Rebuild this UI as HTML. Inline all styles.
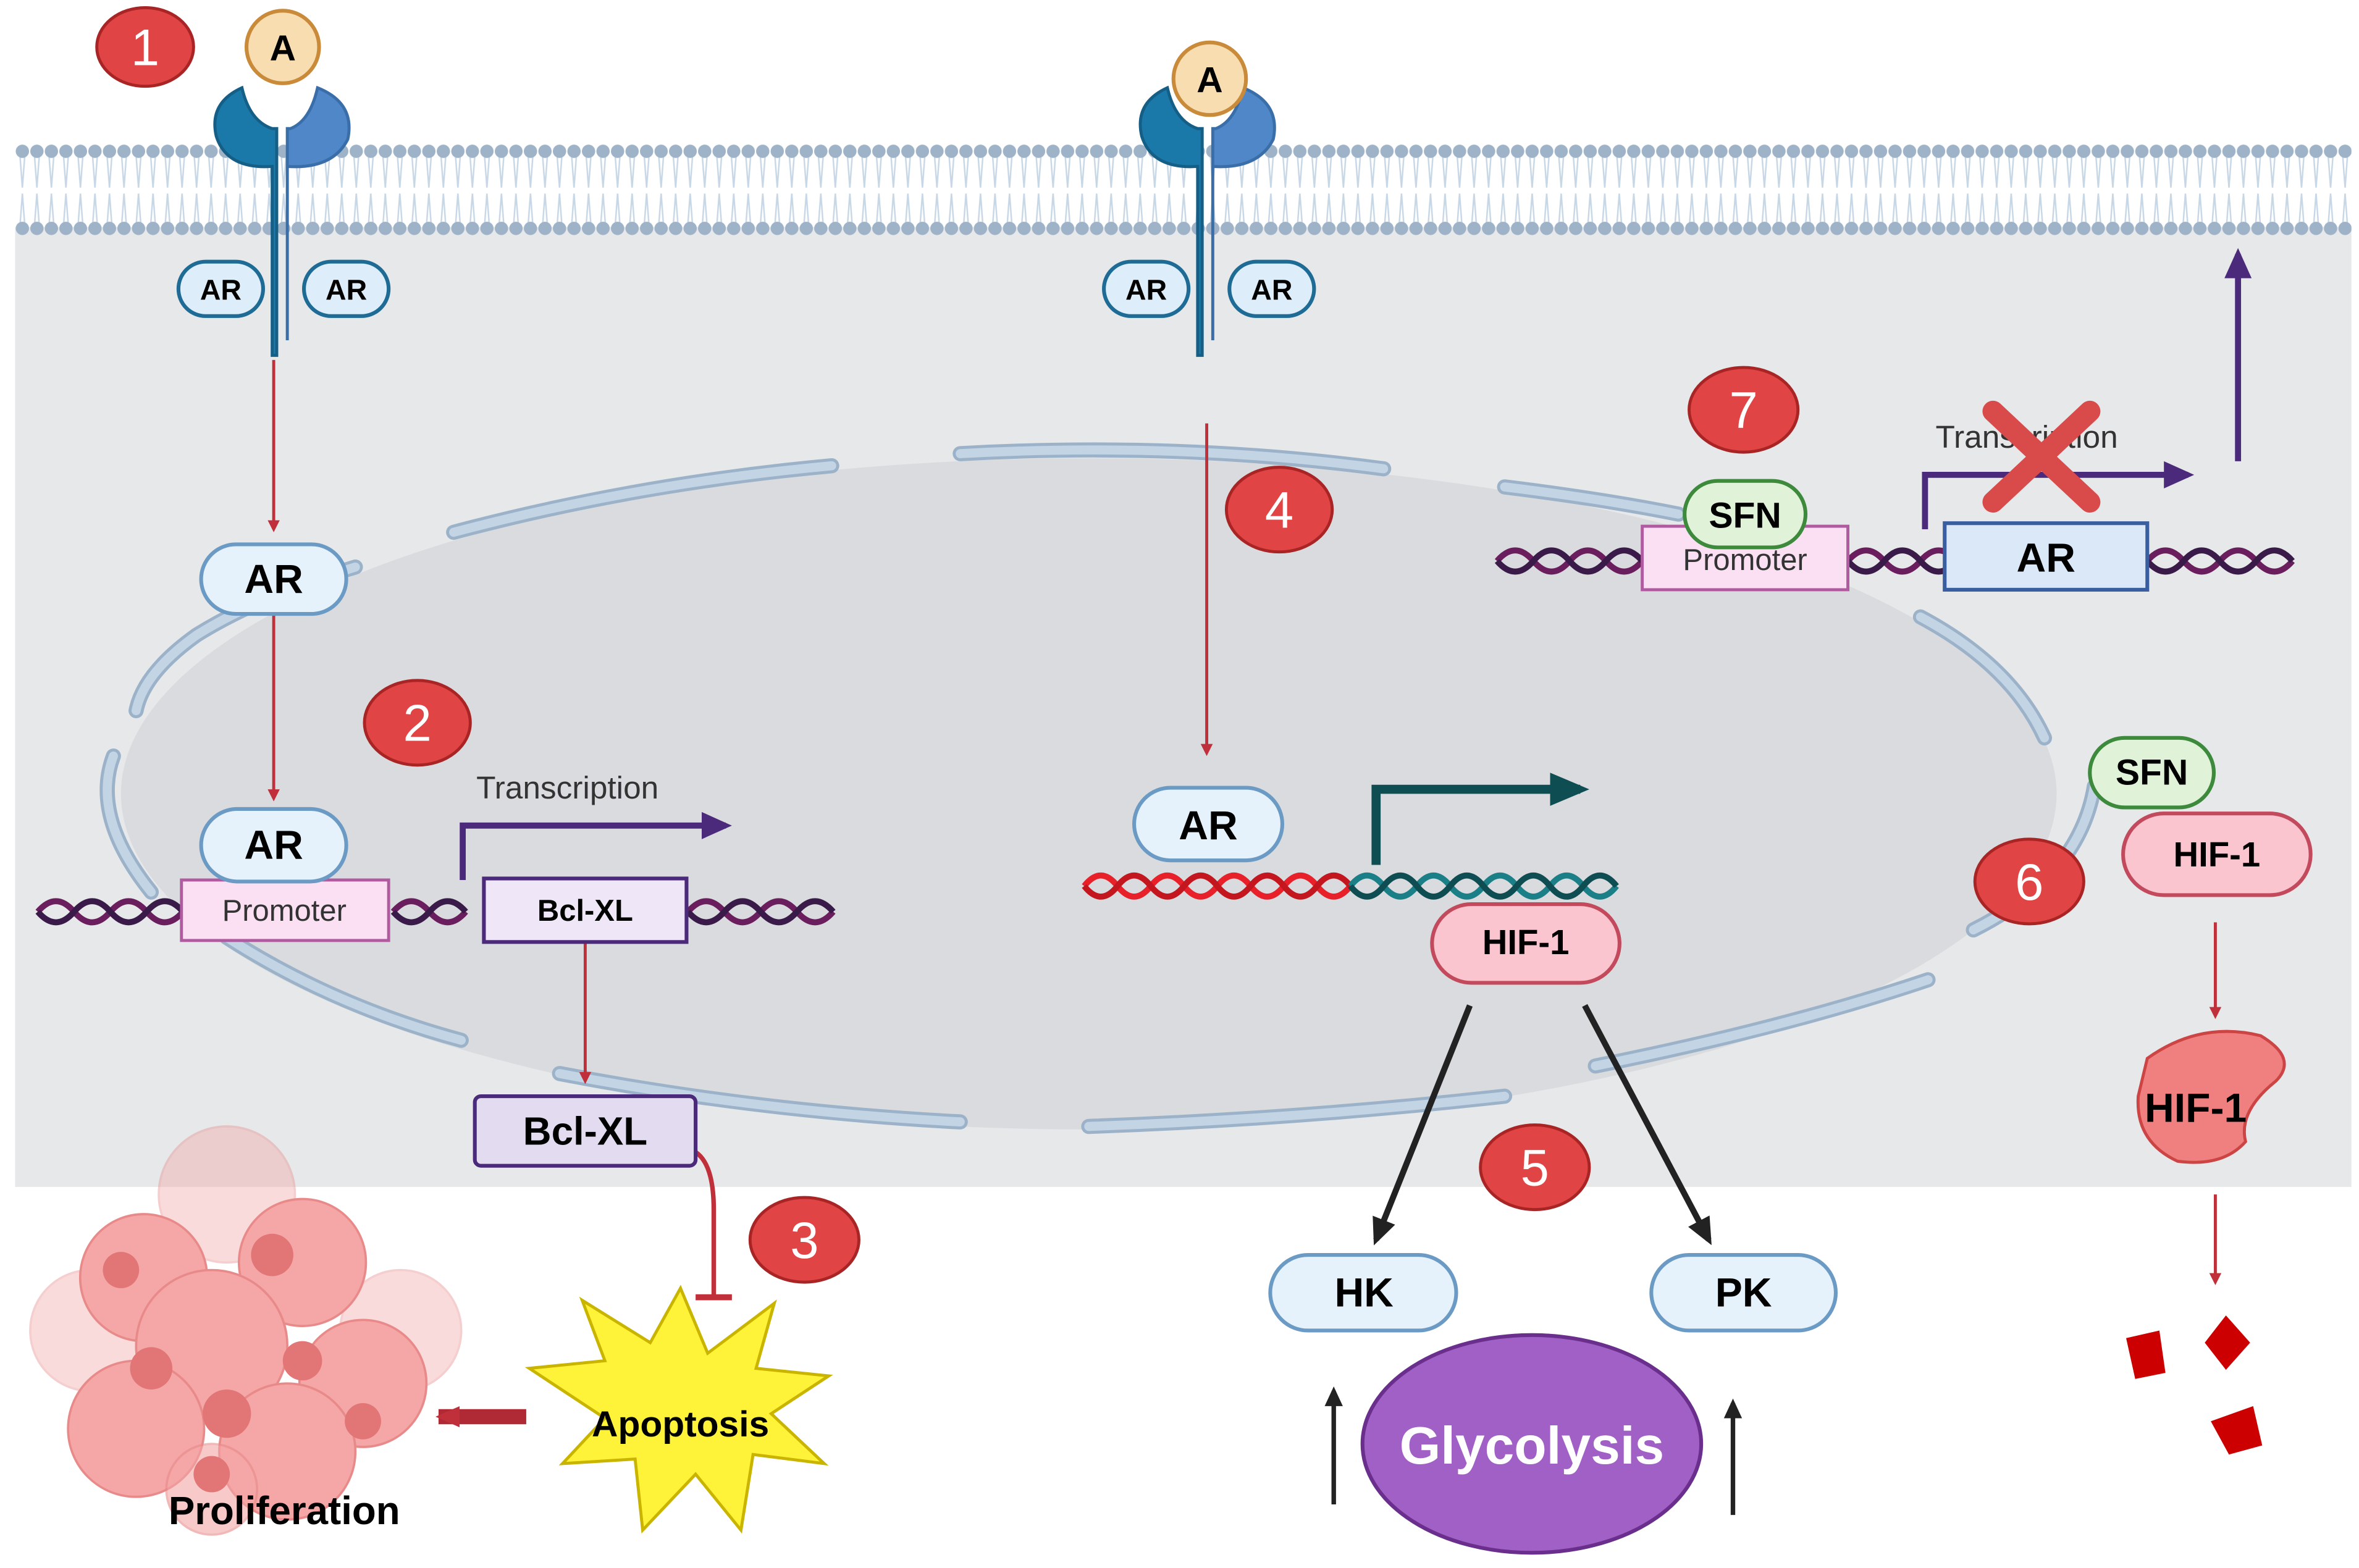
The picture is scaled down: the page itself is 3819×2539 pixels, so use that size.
<!DOCTYPE html>
<html><head><meta charset="utf-8"><style>html,body{margin:0;padding:0;background:#fff}svg{display:block}text{font-family:"Liberation Sans",sans-serif}</style></head><body>
<svg width="3819" height="2539" viewBox="0 0 1560 1037" xmlns="http://www.w3.org/2000/svg">
<defs>
<marker id="ra" markerWidth="8" markerHeight="8" refX="6" refY="4" orient="auto" markerUnits="userSpaceOnUse"><path d="M0,0 L8,4 L0,8 z" fill="#c0303a"/></marker>
<marker id="rb" markerWidth="18" markerHeight="18" refX="14" refY="9" orient="auto" markerUnits="userSpaceOnUse"><path d="M0,2 L16,9 L0,16 z" fill="#c0303a"/></marker>
<marker id="ka" markerWidth="20" markerHeight="20" refX="14" refY="10" orient="auto" markerUnits="userSpaceOnUse"><path d="M0,2 L18,10 L0,18 z" fill="#222"/></marker>
<marker id="ks" markerWidth="14" markerHeight="14" refX="10" refY="7" orient="auto" markerUnits="userSpaceOnUse"><path d="M0,1 L13,7 L0,13 z" fill="#222"/></marker>
<marker id="pa" markerWidth="22" markerHeight="22" refX="16" refY="11" orient="auto" markerUnits="userSpaceOnUse"><path d="M0,2 L20,11 L0,20 z" fill="#4b2a7b"/></marker>
<marker id="ta" markerWidth="30" markerHeight="30" refX="20" refY="15" orient="auto" markerUnits="userSpaceOnUse"><path d="M0,4 L26,15 L0,26 z" fill="#0e4d52"/></marker>
<pattern id="dots1" x="10" y="94" width="9.6" height="12" patternUnits="userSpaceOnUse"><circle cx="4.8" cy="6" r="4.4" fill="#9fb3c8"/></pattern>
<pattern id="dots2" x="10" y="145" width="9.6" height="12" patternUnits="userSpaceOnUse"><circle cx="4.8" cy="6" r="4.4" fill="#9fb3c8"/></pattern>
<pattern id="tails" x="10" y="100" width="9.6" height="52" patternUnits="userSpaceOnUse"><path d="M3,0 L4.8,24 L6.6,0 M3,52 L4.8,28 L6.6,52" stroke="#c7d7e6" stroke-width="1" fill="none"/></pattern>
</defs>
<rect x="10" y="150" width="1545" height="635" fill="#e6e8ea"/>
<rect x="10" y="100" width="1545" height="52" fill="url(#tails)"/>
<rect x="10" y="94" width="1545" height="12" fill="url(#dots1)"/>
<rect x="10" y="145" width="1545" height="12" fill="url(#dots2)"/>
<!-- nucleus -->
<ellipse cx="720" cy="525" rx="640" ry="222" fill="#d9dbde"/>
<g fill="none" stroke-linecap="round">
<g stroke="#9bb2c9" stroke-width="10">
<path d="M300,352 Q420,320 550,308"/><path d="M635,300 Q780,292 915,310"/><path d="M995,322 Q1060,330 1110,340"/>
<path d="M235,375 Q170,395 130,420 Q95,445 90,470"/><path d="M75,500 Q60,540 100,590"/><path d="M150,620 Q220,665 305,688"/>
<path d="M370,710 Q500,735 635,742"/><path d="M720,745 Q860,740 995,725"/><path d="M1055,705 Q1180,680 1275,648"/>
<path d="M1270,408 Q1330,440 1352,488"/><path d="M1385,520 Q1375,580 1305,615"/>
</g>
<g stroke="#c3d4e5" stroke-width="6">
<path d="M300,352 Q420,320 550,308"/><path d="M635,300 Q780,292 915,310"/><path d="M995,322 Q1060,330 1110,340"/>
<path d="M235,375 Q170,395 130,420 Q95,445 90,470"/><path d="M75,500 Q60,540 100,590"/><path d="M150,620 Q220,665 305,688"/>
<path d="M370,710 Q500,735 635,742"/><path d="M720,745 Q860,740 995,725"/><path d="M1055,705 Q1180,680 1275,648"/>
<path d="M1270,408 Q1330,440 1352,488"/><path d="M1385,520 Q1375,580 1305,615"/>
</g></g>
<!-- receptors -->
<g id="rec">
<path d="M180,235 L180,110 Q150,112 143,90 Q138,68 160,58 Q165,80 180,85 L183,85 L183,235 Z" fill="#1b79a9" stroke="#155f87" stroke-width="2"/>
<path d="M190,225 L190,110 Q220,112 230,92 Q235,68 210,58 Q205,80 192,85 L190,85 Z" fill="#4f87c8" stroke="#3a6ea8" stroke-width="2"/>
</g>
<use href="#rec" transform="translate(612,0)"/>
<g font-weight="bold" font-size="19" text-anchor="middle">
<rect x="118" y="173" width="56" height="36" rx="18" fill="#ddeefa" stroke="#1e6b95" stroke-width="2.5"/><text x="146" y="198">AR</text>
<rect x="201" y="173" width="56" height="36" rx="18" fill="#ddeefa" stroke="#1e6b95" stroke-width="2.5"/><text x="229" y="198">AR</text>
<rect x="730" y="173" width="56" height="36" rx="18" fill="#ddeefa" stroke="#1e6b95" stroke-width="2.5"/><text x="758" y="198">AR</text>
<rect x="813" y="173" width="56" height="36" rx="18" fill="#ddeefa" stroke="#1e6b95" stroke-width="2.5"/><text x="841" y="198">AR</text>
</g>
<g font-weight="bold" font-size="24" text-anchor="middle">
<circle cx="187" cy="31" r="24" fill="#f8ddb0" stroke="#c98a3a" stroke-width="2.5"/><text x="187" y="40">A</text>
<circle cx="800" cy="52" r="24" fill="#f8ddb0" stroke="#c98a3a" stroke-width="2.5"/><text x="800" y="61">A</text>
</g>
<!-- red number badges -->
<g font-size="34" fill="#fff" text-anchor="middle">
<g fill="#e04444" stroke="#a92525" stroke-width="2">
<ellipse cx="96" cy="31" rx="32" ry="26"/><ellipse cx="276" cy="478" rx="35" ry="28"/><ellipse cx="532" cy="820" rx="36" ry="28"/>
<ellipse cx="846" cy="337" rx="35" ry="28"/><ellipse cx="1015" cy="772" rx="36" ry="28"/><ellipse cx="1342" cy="583" rx="36" ry="28"/><ellipse cx="1153" cy="271" rx="36" ry="28"/>
</g>
<text x="96" y="43">1</text><text x="276" y="490">2</text><text x="532" y="832">3</text><text x="846" y="349">4</text><text x="1015" y="784">5</text><text x="1342" y="595">6</text><text x="1153" y="283">7</text>
</g>
<!-- red arrows -->
<g stroke="#c0303a" stroke-width="2" fill="none">
<line x1="181" y1="238" x2="181" y2="350" marker-end="url(#ra)"/>
<line x1="181" y1="400" x2="181" y2="528" marker-end="url(#ra)"/>
<line x1="798" y1="280" x2="798" y2="498" marker-end="url(#ra)"/>
<line x1="387" y1="622" x2="387" y2="715" marker-end="url(#ra)"/>
<line x1="1465" y1="610" x2="1465" y2="672" marker-end="url(#ra)"/>
<line x1="1465" y1="790" x2="1465" y2="848" marker-end="url(#ra)"/>
<path d="M460,762 Q472,770 472,800 L472,858" stroke-width="3"/>
<line x1="460" y1="858" x2="484" y2="858" stroke-width="4"/>
</g>
<line x1="348" y1="937" x2="290" y2="937" stroke="#b02a35" stroke-width="10" marker-end="url(#rb)"/>
<!-- DNA -->
<g fill="none" stroke-width="4">
<path d="M25,603 q12,-14 24,0 t24,0 t24,0 t24,0 M260,603 q12,-14 24,0 t24,0 M455,603 q12,-14 24,0 t24,0 t24,0 t24,0" stroke="#6a1e5e"/>
<path d="M25,603 q12,14 24,0 t24,0 t24,0 t24,0 M260,603 q12,14 24,0 t24,0 M455,603 q12,14 24,0 t24,0 t24,0 t24,0" stroke="#3a1a48"/>
<path d="M990,371 q12,-14 24,0 t24,0 t24,0 t24,0 M1222,371 q12,-14 24,0 t24,0 t24,0 M1420,371 q12,-14 24,0 t24,0 t24,0 t24,0" stroke="#6a1e5e"/>
<path d="M990,371 q12,14 24,0 t24,0 t24,0 t24,0 M1222,371 q12,14 24,0 t24,0 t24,0 M1420,371 q12,14 24,0 t24,0 t24,0 t24,0" stroke="#3a1a48"/>
<path d="M717,586 q11,-14 22,0 t22,0 t22,0 t22,0 t22,0 t22,0 t22,0 t22,0" stroke="#e8202a"/>
<path d="M717,586 q11,14 22,0 t22,0 t22,0 t22,0 t22,0 t22,0 t22,0 t22,0" stroke="#c4161e"/>
<path d="M893,586 q11,-14 22,0 t22,0 t22,0 t22,0 t22,0 t22,0 t22,0 t22,0" stroke="#1a7f87"/>
<path d="M893,586 q11,14 22,0 t22,0 t22,0 t22,0 t22,0 t22,0 t22,0 t22,0" stroke="#0e4d52"/>
</g>
<!-- transcription arrows -->
<g fill="none" stroke-width="4">
<path d="M306,582 L306,546 L480,546" stroke="#4b2a7b" marker-end="url(#pa)"/>
<path d="M1273,350 L1273,314 L1447,314" stroke="#4b2a7b" marker-end="url(#pa)"/>
<path d="M910,572 L910,522 L1045,522" stroke="#0e4d52" stroke-width="6" marker-end="url(#ta)"/>
<line x1="1480" y1="305" x2="1480" y2="168" stroke="#4b2a7b" marker-end="url(#pa)"/>
</g>
<g font-size="21" fill="#333">
<text x="315" y="528">Transcription</text>
<text x="1280" y="296">Transcription</text>
</g>
<path d="M1318,272 L1382,332 M1382,272 L1318,332" stroke="#d94a4a" stroke-width="14" stroke-linecap="round"/>
<!-- boxes -->
<g text-anchor="middle">
<rect x="120" y="582" width="137" height="40" fill="#fbe0f4" stroke="#b05aa0" stroke-width="2"/><text x="188" y="609" font-size="20" fill="#333">Promoter</text>
<rect x="320" y="581" width="134" height="42" fill="#efe6f7" stroke="#4b2a7b" stroke-width="2.5"/><text x="387" y="609" font-size="20" font-weight="bold">Bcl-XL</text>
<rect x="314" y="725" width="146" height="46" rx="4" fill="#e3dbf0" stroke="#4b2a7b" stroke-width="2.5"/><text x="387" y="757" font-size="26" font-weight="bold">Bcl-XL</text>
<rect x="1086" y="348" width="136" height="42" fill="#fbe0f4" stroke="#b05aa0" stroke-width="2"/><text x="1154" y="377" font-size="20" fill="#333">Promoter</text>
<rect x="1286" y="346" width="134" height="44" fill="#dbe8f8" stroke="#3a5fa0" stroke-width="2.5"/><text x="1353" y="378" font-size="27" font-weight="bold">AR</text>
<g fill="#e6f2fb" stroke="#6b9bc4" stroke-width="2.5">
<rect x="133" y="360" width="96" height="46" rx="23"/><rect x="133" y="535" width="96" height="48" rx="24"/><rect x="750" y="521" width="98" height="48" rx="24"/>
<rect x="840" y="830" width="123" height="50" rx="25"/><rect x="1092" y="830" width="122" height="50" rx="25"/>
</g>
<g font-size="27" font-weight="bold"><text x="181" y="392">AR</text><text x="181" y="568">AR</text><text x="799" y="555">AR</text><text x="902" y="864">HK</text><text x="1153" y="864">PK</text></g>
<g fill="#e0f3d8" stroke="#3d8a3d" stroke-width="2.5"><rect x="1114" y="318" width="80" height="44" rx="22"/><rect x="1382" y="488" width="82" height="46" rx="23"/></g>
<g font-size="24" font-weight="bold"><text x="1154" y="349">SFN</text><text x="1423" y="519">SFN</text></g>
<g fill="#fbc5cf" stroke="#c24a5c" stroke-width="2.5"><rect x="947" y="598" width="124" height="52" rx="26"/><rect x="1404" y="538" width="124" height="54" rx="27"/></g>
<g font-size="23" font-weight="bold"><text x="1009" y="631">HIF-1</text><text x="1466" y="573">HIF-1</text></g>
</g>
<!-- degraded HIF-1 -->
<path d="M1420,700 Q1455,675 1495,685 Q1520,700 1505,715 Q1480,735 1485,755 Q1470,772 1440,768 Q1412,755 1414,725 Z" fill="#f08080" stroke="#c44" stroke-width="2"/>
<text x="1452" y="742" font-size="27" font-weight="bold" text-anchor="middle">HIF-1</text>
<g fill="#cc0000"><path d="M1406,885 L1428,880 L1432,908 L1412,912 Z"/><path d="M1458,888 L1472,870 L1488,888 L1472,906 Z"/><path d="M1462,940 L1490,930 L1496,956 L1474,962 Z"/></g>
<!-- black arrows -->
<g stroke="#222" stroke-width="4" fill="none">
<line x1="972" y1="665" x2="910" y2="820" marker-end="url(#ka)"/>
<line x1="1048" y1="665" x2="1130" y2="820" marker-end="url(#ka)"/>
<line x1="882" y1="995" x2="882" y2="920" stroke-width="3" marker-end="url(#ks)"/>
<line x1="1146" y1="1002" x2="1146" y2="928" stroke-width="3" marker-end="url(#ks)"/>
</g>
<ellipse cx="1013" cy="955" rx="112" ry="72" fill="#a060c6" stroke="#6a2f8c" stroke-width="2.5"/>
<text x="1013" y="968" font-size="35" font-weight="bold" fill="#fff" text-anchor="middle">Glycolysis</text>
<!-- apoptosis star -->
<polygon points="450,852 468,895 512,862 500,905 548,910 510,935 545,968 498,962 490,1012 460,975 425,1012 420,965 372,968 400,938 350,905 400,900 385,860 430,888" fill="#fff33a" stroke="#c9b400" stroke-width="2"/>
<text x="450" y="950" font-size="24" font-weight="bold" text-anchor="middle">Apoptosis</text>
<!-- proliferation cluster -->
<g fill="#f5a6a6" stroke="#e88a8a" stroke-width="1.5">
<circle cx="150" cy="790" r="45" opacity="0.4"/><circle cx="60" cy="880" r="40" opacity="0.4"/><circle cx="265" cy="880" r="40" opacity="0.4"/>
<circle cx="95" cy="845" r="42"/><circle cx="200" cy="835" r="42"/><circle cx="140" cy="890" r="50"/><circle cx="240" cy="915" r="42"/><circle cx="90" cy="945" r="45"/><circle cx="190" cy="960" r="45"/><circle cx="140" cy="985" r="30" opacity="0.6"/>
</g>
<g fill="#e27575"><circle cx="100" cy="905" r="14"/><circle cx="150" cy="935" r="16"/><circle cx="200" cy="900" r="13"/><circle cx="180" cy="830" r="14"/><circle cx="240" cy="940" r="12"/><circle cx="80" cy="840" r="12"/><circle cx="140" cy="975" r="12"/></g>
<text x="188" y="1008" font-size="26" font-weight="bold" text-anchor="middle">Proliferation</text>
</svg>
</body></html>
